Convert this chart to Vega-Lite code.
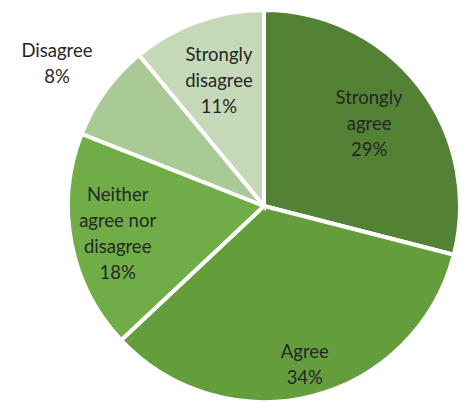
{
  "$schema": "https://vega.github.io/schema/vega-lite/v6.json",
  "width": 396,
  "height": 392,
  "autosize": "none",
  "padding": {"left": 66, "top": 10, "right": 0, "bottom": 3},
  "background": "white",
  "config": {"view": {"stroke": null}, "text": {"font": "Lato", "fontSize": 18.5, "lineHeight": 26, "lineBreak": "\n", "baseline": "middle"}},
  "data": {
    "values": [
      {"category": "Strongly agree", "label": "Strongly\nagree", "value": 29, "order": 1},
      {"category": "Agree", "label": "Agree", "value": 34, "order": 2},
      {"category": "Neither agree nor disagree", "label": "Neither\nagree nor\ndisagree", "value": 18, "order": 3},
      {"category": "Disagree", "label": "Disagree", "value": 8, "order": 4},
      {"category": "Strongly disagree", "label": "Strongly\ndisagree", "value": 11, "order": 5}
    ]
  },
  "transform": [
    {"stack": "value", "groupby": [], "sort": [{"field": "order", "order": "ascending"}], "as": ["v0", "v1"]},
    {"calculate": "(datum.v0 + datum.v1) / 2", "as": "mid"},
    {"calculate": "datum.label + '\\n' + datum.value + '%'", "as": "text"}
  ],
  "layer": [
    {
      "mark": {"type": "arc", "stroke": "white", "strokeWidth": 4},
      "encoding": {
        "theta": {"field": "v0", "type": "quantitative", "scale": {"domain": [0, 100], "range": [0, 6.283185307179586]}},
        "theta2": {"field": "v1"},
        "color": {
          "field": "category",
          "type": "nominal",
          "scale": {
            "domain": ["Strongly agree", "Agree", "Neither agree nor disagree", "Disagree", "Strongly disagree"],
            "range": ["#548235", "#649e3c", "#70ad47", "#a9c995", "#c5d9b8"]
          },
          "legend": null
        }
      }
    },
    {
      "transform": [{"filter": "datum.category == 'Strongly agree' || datum.category == 'Strongly disagree'"}],
      "mark": {"type": "text", "radius": 133, "dy": -26},
      "encoding": {
        "theta": {"field": "mid", "type": "quantitative", "scale": {"domain": [0, 100], "range": [0, 6.283185307179586]}},
        "text": {"field": "text"},
        "color": {"value": "#262626"}
      }
    },
    {
      "transform": [{"filter": "datum.category == 'Agree'"}],
      "mark": {"type": "text", "radius": 164, "dy": -13},
      "encoding": {
        "theta": {"field": "mid", "type": "quantitative", "scale": {"domain": [0, 100], "range": [0, 6.283185307179586]}},
        "text": {"field": "text"},
        "color": {"value": "#262626"}
      }
    },
    {
      "transform": [{"filter": "datum.category == 'Neither agree nor disagree'"}],
      "mark": {"type": "text", "radius": 149, "dy": -39},
      "encoding": {
        "theta": {"field": "mid", "type": "quantitative", "scale": {"domain": [0, 100], "range": [0, 6.283185307179586]}},
        "text": {"field": "text"},
        "color": {"value": "#262626"}
      }
    },
    {
      "transform": [{"filter": "datum.category == 'Disagree'"}],
      "mark": {"type": "text", "radius": 251, "dy": -7, "dx": -4},
      "encoding": {
        "theta": {"field": "mid", "type": "quantitative", "scale": {"domain": [0, 100], "range": [0, 6.283185307179586]}},
        "text": {"field": "text"},
        "color": {"value": "#262626"}
      }
    }
  ]
}
